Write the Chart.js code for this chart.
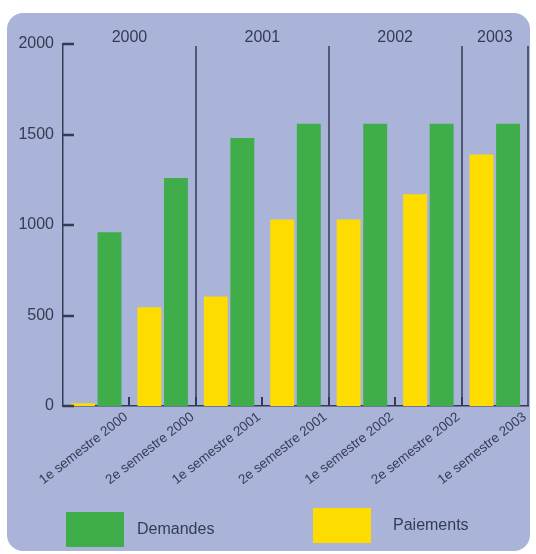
<!DOCTYPE html>
<html>
<head>
<meta charset="utf-8">
<script src="https://cdn.jsdelivr.net/npm/chart.js@4.4.1/dist/chart.umd.min.js"></script>
<style>
  html, body { margin: 0; padding: 0; background: #fff; }
</style>
</head>
<body>
<canvas id="semesterChart" width="536" height="554"></canvas>
<script>
// data
const semesters = ['1e semestre 2000', '2e semestre 2000', '1e semestre 2001', '2e semestre 2001',
  '1e semestre 2002', '2e semestre 2002', '1e semestre 2003'];
const paiements = [15, 545, 605, 1030, 1030, 1170, 1390];
const demandes = [960, 1260, 1480, 1560, 1560, 1560, 1560];
const yTicks = [0, 500, 1000, 1500, 2000];
const years = ['2000', '2001', '2002', '2003'];
const yearFirst = [0, 2, 4, 6];
const yearLast = [1, 3, 5, 6];

// colours
const panelColor = '#a9b4d8';
const green = '#3fad4a';
const yellow = '#ffdc00';
const ink = '#363b54';
const font = "'Liberation Sans', Arial, sans-serif";

const panel = {
  id: 'panel',
  beforeDraw(chart) {
    const ctx = chart.ctx;
    ctx.save();
    ctx.fillStyle = panelColor;
    ctx.beginPath();
    ctx.roundRect(7, 13, 523, 538, 16);
    ctx.fill();
    ctx.restore();
  }
};

const extras = {
  id: 'extras',
  afterDraw(chart) {
    const ctx = chart.ctx;
    const x = chart.scales.x;
    const y = chart.scales.y;
    const area = chart.chartArea;
    ctx.save();
    ctx.strokeStyle = ink;

    // inward ticks on the value axis
    ctx.lineWidth = 2.5;
    yTicks.forEach((v) => {
      const py = Math.round(y.getPixelForValue(v));
      ctx.beginPath();
      ctx.moveTo(area.left, py);
      ctx.lineTo(area.left + 11, py);
      ctx.stroke();
    });

    // short ticks between semesters
    ctx.lineWidth = 2;
    for (let i = 1; i < semesters.length; i++) {
      const px = Math.round(x.getPixelForValue(i - 0.5));
      ctx.beginPath();
      ctx.moveTo(px, area.bottom);
      ctx.lineTo(px, area.bottom - 9);
      ctx.stroke();
    }

    // year separators and year labels
    ctx.lineWidth = 1.5;
    ctx.fillStyle = ink;
    ctx.font = '16px ' + font;
    ctx.textAlign = 'center';
    ctx.textBaseline = 'middle';
    years.forEach((yr, i) => {
      const left = x.getPixelForValue(yearFirst[i] - 0.5);
      const right = x.getPixelForValue(yearLast[i] + 0.5);
      ctx.beginPath();
      ctx.moveTo(Math.round(right), 46);
      ctx.lineTo(Math.round(right), area.bottom);
      ctx.stroke();
      ctx.fillText(yr, (left + right) / 2, 38);
    });

    // legend, Demandes first
    const items = [
      { ds: chart.data.datasets[1], box: [66, 512], text: [137, 530] },
      { ds: chart.data.datasets[0], box: [313, 508], text: [393, 526] }
    ];
    ctx.font = '16px ' + font;
    ctx.textAlign = 'left';
    items.forEach((it) => {
      ctx.fillStyle = it.ds.backgroundColor;
      ctx.fillRect(it.box[0], it.box[1], 58, 35);
      ctx.fillStyle = ink;
      ctx.fillText(it.ds.label, it.text[0], it.text[1]);
    });
    ctx.restore();
  }
};

new Chart(document.getElementById('semesterChart'), {
  type: 'bar',
  data: {
    labels: semesters,
    datasets: [{
      label: 'Paiements',
      data: paiements,
      backgroundColor: yellow,
      borderWidth: 0
    }, {
      label: 'Demandes',
      data: demandes,
      backgroundColor: green,
      borderWidth: 0
    }]
  },
  options: {
    responsive: false,
    animation: false,
    categoryPercentage: 0.8,
    barPercentage: 0.9,
    layout: {
      padding: { top: 44, right: 8, left: 0, bottom: 0 }
    },
    plugins: {
      legend: { display: false },
      tooltip: { enabled: false }
    },
    scales: {
      x: {
        grid: { display: false, drawTicks: false },
        border: { display: true, color: ink, width: 1.5 },
        afterFit: (scale) => { scale.height = 148; },
        ticks: {
          autoSkip: false,
          minRotation: 38,
          maxRotation: 38,
          labelOffset: 30,
          padding: 3,
          color: ink,
          font: { family: font, size: 13.5 }
        }
      },
      y: {
        min: 0,
        max: 2000,
        grid: { display: false, drawTicks: false },
        border: { display: true, color: ink, width: 1.5 },
        afterFit: (scale) => { scale.width = 63; },
        afterBuildTicks: (scale) => {
          scale.ticks = yTicks.map((v) => ({ value: v }));
        },
        ticks: {
          padding: 9,
          color: ink,
          font: { family: font, size: 16 },
          callback: (v) => String(v)
        }
      }
    }
  },
  plugins: [panel, extras]
});
</script>
</body>
</html>
